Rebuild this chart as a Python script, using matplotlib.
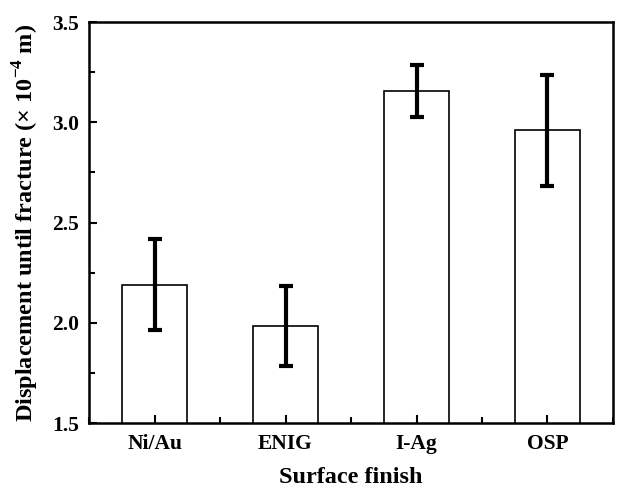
import matplotlib
matplotlib.use("Agg")
import matplotlib.pyplot as plt
from matplotlib.ticker import MultipleLocator

categories = ["Ni/Au", "ENIG", "I-Ag", "OSP"]
values = [2.19, 1.985, 3.157, 2.96]
errors = [0.228, 0.2, 0.13, 0.277]

plt.rcParams['font.family'] = ['Liberation Serif', 'DejaVu Serif']
plt.rcParams['font.weight'] = 'bold'
plt.rcParams['mathtext.fontset'] = 'custom'
plt.rcParams['mathtext.rm'] = 'Liberation Serif:bold'
plt.rcParams['mathtext.bf'] = 'Liberation Serif:bold'

fig = plt.figure(figsize=(6.3, 4.9), dpi=100)
ax = fig.add_axes([0.1413, 0.1367, 0.8317, 0.8183])
ax.set_axisbelow(False)

x = list(range(len(categories)))
ax.bar(x, values, width=0.5, color='white', edgecolor='black', linewidth=1.2, zorder=2)
ax.errorbar(x, values, yerr=errors, fmt='none', ecolor='black', elinewidth=3,
            capsize=5, capthick=3, zorder=3)

ax.set_xlim(-0.5, 3.5)
ax.set_ylim(1.5, 3.5)
ax.set_xticks(x)
ax.set_xticklabels(categories, fontsize=15.5, fontweight='bold')
ax.xaxis.set_minor_locator(MultipleLocator(0.5))
ax.yaxis.set_major_locator(MultipleLocator(0.5))
ax.yaxis.set_minor_locator(MultipleLocator(0.25))
ax.set_yticklabels([f"{v:.1f}" for v in ax.get_yticks()], fontsize=15.5, fontweight='bold')
ax.tick_params(which='both', direction='in', width=1.5, top=False, right=False)
ax.tick_params(which='major', length=6)
ax.tick_params(which='minor', length=4)
ax.tick_params(axis='x', which='major', pad=8)
ax.tick_params(axis='y', which='major', pad=7)
for s in ax.spines.values():
    s.set_linewidth(1.8)

ax.set_xlabel("Surface finish", fontsize=17.5, fontweight='bold', labelpad=9)
ax.set_ylabel(r"Displacement until fracture ($\times$ 10$^{-4}$ m)", fontsize=17.5,
              fontweight='bold', labelpad=8)

fig.savefig("out.png", dpi=100)
